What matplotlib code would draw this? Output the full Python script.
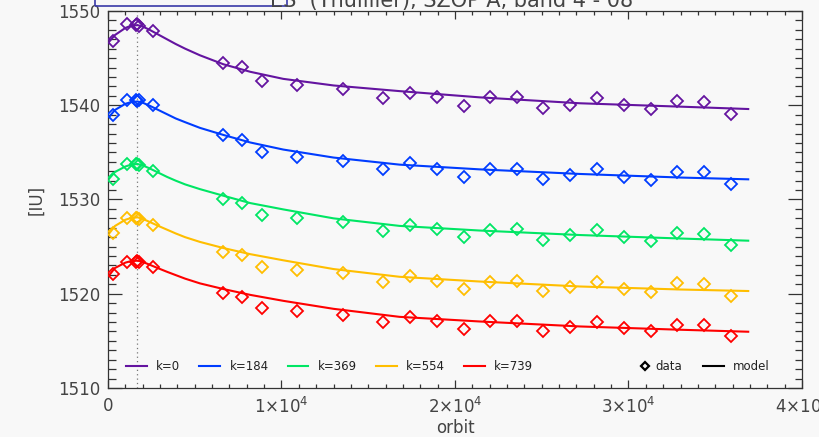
import numpy as np
import matplotlib
matplotlib.use("Agg")
import matplotlib.pyplot as plt
from matplotlib.lines import Line2D
from matplotlib.patches import Rectangle
from matplotlib.ticker import MultipleLocator

# orbit numbers of the measurements
orbit = [300, 1080, 1590, 1670, 1760, 2590, 6610, 7740, 8890, 10880, 13530, 15830,
         17410, 18950, 20520, 22020, 23560, 25090, 26630, 28200, 29760, 31280,
         32810, 34350, 35910]

data_k0 = [1546.85, 1548.62, 1548.51, 1548.57, 1548.46, 1547.88, 1544.51, 1544.03,
           1542.60, 1542.15, 1541.72, 1540.80, 1541.35, 1540.84, 1539.95, 1540.84,
           1540.84, 1539.68, 1540.03, 1540.74, 1540.03, 1539.57, 1540.45, 1540.31, 1539.04]
data_k184 = [1538.97, 1540.56, 1540.56, 1540.50, 1540.61, 1540.03, 1536.84, 1536.31,
             1535.01, 1534.54, 1534.08, 1533.24, 1533.84, 1533.24, 1532.42, 1533.24,
             1533.24, 1532.18, 1532.60, 1533.24, 1532.42, 1532.07, 1532.95, 1532.95, 1531.64]
data_k369 = [1532.17, 1533.73, 1533.73, 1533.77, 1533.70, 1533.02, 1530.05, 1529.66,
             1528.36, 1528.00, 1527.58, 1526.69, 1527.29, 1526.84, 1525.99, 1526.76,
             1526.84, 1525.70, 1526.23, 1526.76, 1525.99, 1525.63, 1526.48, 1526.34, 1525.17]
data_k554 = [1526.41, 1528.00, 1528.00, 1528.04, 1527.97, 1527.29, 1524.46, 1524.11,
             1522.87, 1522.52, 1522.17, 1521.25, 1521.88, 1521.38, 1520.50, 1521.28,
             1521.38, 1520.32, 1520.75, 1521.28, 1520.50, 1520.22, 1521.11, 1521.03, 1519.76]
data_k739 = [1522.06, 1523.40, 1523.40, 1523.43, 1523.37, 1522.87, 1520.11, 1519.62,
             1518.46, 1518.20, 1517.75, 1516.95, 1517.50, 1517.11, 1516.26, 1517.14,
             1517.11, 1516.05, 1516.44, 1516.97, 1516.33, 1516.08, 1516.68, 1516.68, 1515.52]

model_orbit = [0, 400, 1000, 1300, 1700, 2000, 2400, 2900, 3400, 3900, 4450, 5300, 6650,
               8200, 10100, 13000, 16800, 21400, 27200, 33000, 36900]
model_k0 = [1546.60, 1547.45, 1548.20, 1548.42, 1548.50, 1548.35, 1548.00, 1547.50, 1547.00,
            1546.50, 1546.00, 1545.30, 1544.35, 1543.55, 1542.80, 1542.10, 1541.50, 1540.84,
            1540.21, 1539.85, 1539.60]
model_k184 = [1538.62, 1539.50, 1540.15, 1540.32, 1540.40, 1540.27, 1539.95, 1539.50, 1539.05,
              1538.60, 1538.20, 1537.60, 1536.85, 1536.05, 1535.30, 1534.45, 1533.70, 1533.20,
              1532.71, 1532.33, 1532.14]
model_k369 = [1532.07, 1532.92, 1533.50, 1533.68, 1533.77, 1533.62, 1533.30, 1532.85, 1532.40,
              1532.00, 1531.60, 1531.10, 1530.40, 1529.62, 1528.95, 1528.00, 1527.20, 1526.71,
              1526.23, 1525.86, 1525.63]
model_k554 = [1526.23, 1527.19, 1527.85, 1528.02, 1528.11, 1527.95, 1527.62, 1527.20, 1526.80,
              1526.40, 1526.00, 1525.50, 1524.85, 1524.20, 1523.55, 1522.62, 1521.80, 1521.30,
              1520.77, 1520.45, 1520.29]
model_k739 = [1521.81, 1522.73, 1523.30, 1523.45, 1523.51, 1523.38, 1523.08, 1522.70, 1522.33,
              1521.98, 1521.60, 1521.10, 1520.50, 1519.88, 1519.25, 1518.40, 1517.55, 1517.06,
              1516.53, 1516.18, 1515.97]

k_labels = ["k=0", "k=184", "k=369", "k=554", "k=739"]
colors = ["#6414a0", "#003cff", "#00e664", "#ffbe00", "#ff0000"]
ref_orbit = 1670

xticks = [0, 10000, 20000, 30000, 40000]
xtick_labels = ["0", r"1$\times$10$^4$", r"2$\times$10$^4$", r"3$\times$10$^4$", r"4$\times$10$^4$"]
yticks = [1510, 1520, 1530, 1540, 1550]

bg = "#f8f8f8"
txt = "#444444"

fig = plt.figure(figsize=(8.2, 4.37), dpi=100, facecolor=bg)
ax = fig.add_axes([108 / 820, 1 - 388 / 437, 694 / 820, 377 / 437])
ax.set_facecolor(bg)

data_sets = [data_k0, data_k184, data_k369, data_k554, data_k739]
model_sets = [model_k0, model_k184, model_k369, model_k554, model_k739]

ax.axvline(ref_orbit, color="#777777", ls=(0, (1, 2.5)), lw=0.9, zorder=1)
for dat, mod, col in zip(data_sets, model_sets, colors):
    ax.plot(model_orbit, mod, color=col, lw=1.5, zorder=2)
    ax.plot(orbit, dat, ls="none", marker="D", ms=6.3, mfc="none", mec=col, mew=1.3, zorder=3)

ax.set_xlim(0, 40000)
ax.set_ylim(1510, 1550)
ax.set_xticks(xticks)
ax.set_xticklabels(xtick_labels)
ax.set_yticks(yticks)
ax.xaxis.set_minor_locator(MultipleLocator(1000))
ax.yaxis.set_minor_locator(MultipleLocator(1))
ax.tick_params(which="both", direction="in", top=True, right=True, colors="#333333",
               labelcolor=txt, labelsize=12, width=0.9)
ax.tick_params(axis="x", which="major", length=5.5, pad=6.5)
ax.tick_params(axis="x", which="minor", length=3)
ax.tick_params(axis="y", which="major", length=10, pad=5.8)
ax.tick_params(axis="y", which="minor", length=5.4)
for sp in ax.spines.values():
    sp.set_color("#333333")
    sp.set_linewidth(0.9)

ax.set_xlabel("orbit", fontsize=12, color=txt, labelpad=1)
ax.set_ylabel("[IU]", fontsize=12, color=txt, labelpad=9)

# legends
k_handles = [Line2D([], [], color=c, lw=1.5) for c in colors]
leg1 = ax.legend(k_handles, k_labels, ncol=5, loc="center left", bbox_to_anchor=(0.026, 0.058),
                 frameon=False, fontsize=8.5, handlelength=1.76, handletextpad=0.8,
                 columnspacing=1.6, borderpad=0, borderaxespad=0, labelcolor="#222222")
ax.add_artist(leg1)
d_handle = Line2D([], [], ls="none", marker="D", ms=3.6, mfc="none", mec="black", mew=1.6)
leg2 = ax.legend([d_handle], ["data"], loc="center left", bbox_to_anchor=(0.7695, 0.058),
                 frameon=False, fontsize=8.5, handlelength=0.5, handletextpad=0.6,
                 borderpad=0, borderaxespad=0, labelcolor="#222222")
ax.add_artist(leg2)
m_handle = Line2D([], [], color="black", lw=1.5)
ax.legend([m_handle], ["model"], loc="center left", bbox_to_anchor=(0.857, 0.058),
          frameon=False, fontsize=8.5, handlelength=1.76, handletextpad=0.75,
          borderpad=0, borderaxespad=0, labelcolor="#222222")

# title strip, mostly cut off at the top edge
fig.add_artist(Rectangle((95 / 820, 1 - 6 / 437), 192 / 820, 0.1, transform=fig.transFigure,
                         fill=False, ec="#3a3aa8", lw=1.2, clip_on=False))
fig.text(270 / 820, 1 - 7.5 / 437, "ES  (Thuillier), SZOP A, band 4 - 08", fontsize=15,
         color=txt, va="baseline", ha="left")

fig.savefig("out.png", dpi=100, facecolor=bg)
